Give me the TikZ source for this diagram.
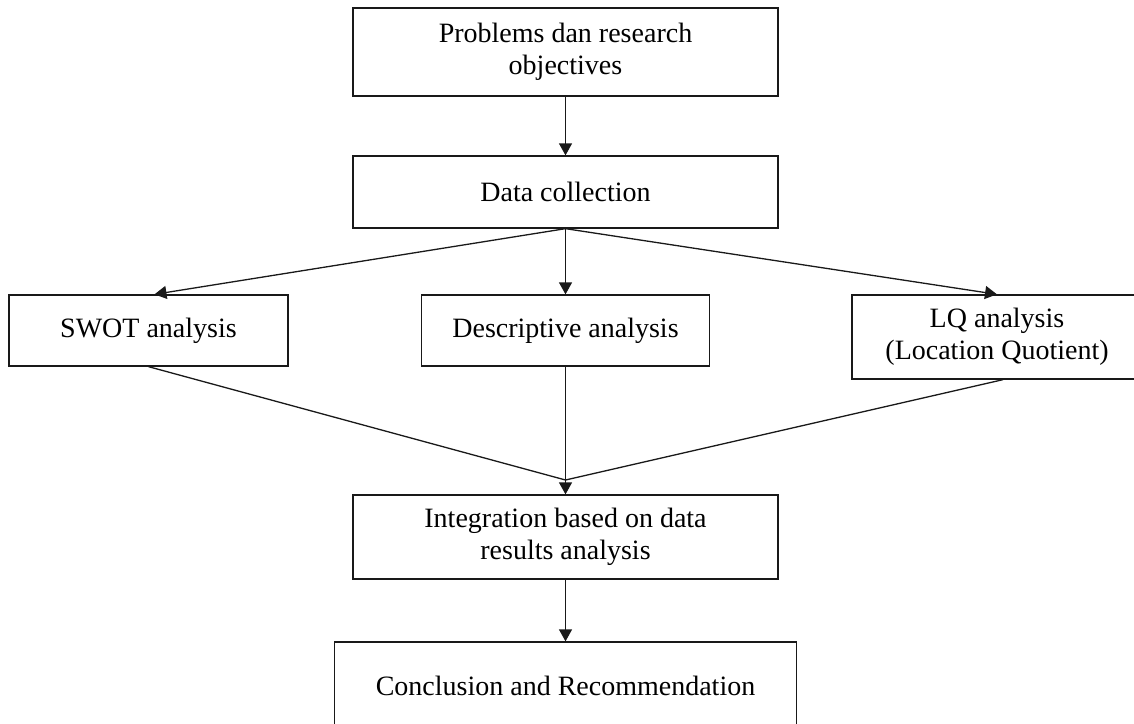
\documentclass[tikz,border=0pt]{standalone}
\usepackage{fontspec}
\setmainfont{Liberation Serif}
\usetikzlibrary{arrows.meta}
\begin{document}
\begin{tikzpicture}[x=1pt,y=-1pt,
  box/.style={draw=black!90,line width=1.3pt,align=center,inner sep=0pt,
    font=\fontsize{28}{32}\selectfont},
  arr/.style={draw=black!90,line width=1.3pt,-{Triangle[length=12pt,width=13pt]}},
  ln/.style={draw=black!90,line width=1.3pt}]
\useasboundingbox (0,0) rectangle (1134,723);
\node[box,minimum width=425pt,minimum height=88pt] (b1) at (565.5,52) {Problems dan research\\objectives};
\node[box,minimum width=425pt,minimum height=72pt] (b2) at (565.5,192) {Data collection};
\node[box,minimum width=279pt,minimum height=71pt] (swot) at (148.5,330.5) {SWOT analysis};
\node[box,minimum width=288pt,minimum height=71pt] (desc) at (565.5,330.5) {Descriptive analysis};
\node[box,minimum width=290pt,minimum height=84pt] (lq) at (997,337) {LQ analysis\\(Location Quotient)};
\node[box,minimum width=425pt,minimum height=84pt] (integ) at (565.5,537) {Integration based on data\\results analysis};
\node[box,minimum width=462pt,minimum height=88pt] (concl) at (565.5,686) {Conclusion and Recommendation};
\coordinate (m) at (565.5,480);
\draw[arr] (b1.south) -- (b2.north);
\draw[arr] (b2.south) -- ([xshift=6pt]swot.north);
\draw[arr] (b2.south) -- (desc.north);
\draw[arr] (b2.south) -- (lq.north);
\draw[ln] (swot.south) -- (m);
\draw[ln] ([xshift=6pt]lq.south) -- (m);
\draw[arr] (desc.south) -- (integ.north);
\draw[arr] (integ.south) -- (concl.north);
\end{tikzpicture}
\end{document}
